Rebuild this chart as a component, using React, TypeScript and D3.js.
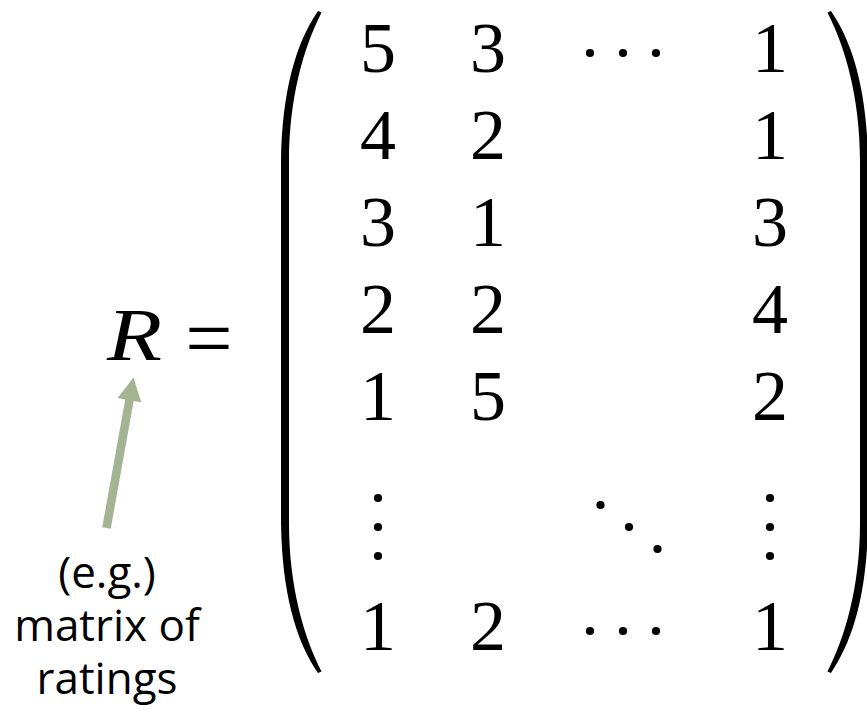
import React from "react";
import * as d3 from "d3";

// ---- data ----
const colKeys = ["c1", "c2", "c3", "c4"];
const col1Values = [5, 4, 3, 2, 1];
const col2Values = [3, 2, 1, 2, 5];
const lastColValues = [1, 1, 3, 4, 2];
const lastRowValues = [1, 2, 1];
const rowKeys = ["r1", "r2", "r3", "r4", "r5", "vdots", "last"];
const labelLines = ["(e.g.)", "matrix of", "ratings"];
const lhsSymbol = "R";
const eqSymbol = "=";

const W = 867;
const H = 713;

export default function App() {
  const x = d3.scaleOrdinal<string, number>().domain(colKeys).range([378, 488, 623, 770]);
  const y = d3.scaleOrdinal<string, number>().domain(rowKeys).range([72, 159, 246, 333, 420, 527, 650]);
  const axisShift = 19; // math axis above baseline
  const dotR = 4.1;
  const dotGap = 33;
  const mathFont = "'Liberation Serif', 'Times New Roman', serif";
  const fs = 72;

  const cells: { k: string; col: string; row: string; v: number }[] = [];
  col1Values.forEach((v, i) => cells.push({ k: `a${i}`, col: "c1", row: rowKeys[i], v }));
  col2Values.forEach((v, i) => cells.push({ k: `b${i}`, col: "c2", row: rowKeys[i], v }));
  lastColValues.forEach((v, i) => cells.push({ k: `d${i}`, col: "c4", row: rowKeys[i], v }));
  ["c1", "c2", "c4"].forEach((c, i) => cells.push({ k: `l${i}`, col: c, row: "last", v: lastRowValues[i] }));

  const dots: { k: string; cx: number; cy: number }[] = [];
  ["r1", "last"].forEach((r) => {
    [-1, 0, 1].forEach((j) =>
      dots.push({ k: `h${r}${j}`, cx: x("c3") + j * dotGap, cy: y(r) - axisShift })
    );
  });
  ["c1", "c4"].forEach((c) => {
    [-1, 0, 1].forEach((j) => dots.push({ k: `v${c}${j}`, cx: x(c), cy: y("vdots") + j * 29 }));
  });
  [-1, 0, 1].forEach((j) =>
    dots.push({ k: `dd${j}`, cx: x("c3") + 6 + j * 28.5, cy: y("vdots") + j * 22 })
  );

  // parenthesis shape (left); right is mirrored
  const parenTop = 11;
  const parenBot = 673;
  const outerX = 281;
  const innerX = 289;
  const tipX = 320;
  const lp = d3.path();
  lp.moveTo(tipX - 2, parenTop);
  lp.bezierCurveTo(tipX - 24, parenTop + 32, outerX + 1, parenTop + 80, outerX, parenTop + 150);
  lp.lineTo(outerX, parenBot - 150);
  lp.bezierCurveTo(outerX + 1, parenBot - 80, tipX - 24, parenBot - 32, tipX - 2, parenBot);
  lp.lineTo(tipX + 1.5, parenBot - 1.5);
  lp.bezierCurveTo(tipX - 16, parenBot - 36, innerX, parenBot - 86, innerX, parenBot - 150);
  lp.lineTo(innerX, parenTop + 150);
  lp.bezierCurveTo(innerX, parenTop + 86, tipX - 16, parenTop + 36, tipX + 1.5, parenTop + 1.5);
  lp.closePath();
  const mirrorX = tipX + 829;

  // arrow
  const arrowTail: [number, number] = [106.5, 528];
  const arrowTip: [number, number] = [133.5, 377.5];
  const dx = arrowTip[0] - arrowTail[0];
  const dy = arrowTip[1] - arrowTail[1];
  const len = Math.hypot(dx, dy);
  const ux = dx / len;
  const uy = dy / len;
  const px = -uy;
  const py = ux;
  const headLen = 23;
  const headHalf = 12;
  const shaftHalf = 4.3;
  const hb: [number, number] = [arrowTip[0] - ux * headLen, arrowTip[1] - uy * headLen];
  const arrowPts: [number, number][] = [
    [arrowTail[0] + px * shaftHalf, arrowTail[1] + py * shaftHalf],
    [hb[0] + px * shaftHalf, hb[1] + py * shaftHalf],
    [hb[0] + px * headHalf, hb[1] + py * headHalf],
    arrowTip,
    [hb[0] - px * headHalf, hb[1] - py * headHalf],
    [hb[0] - px * shaftHalf, hb[1] - py * shaftHalf],
    [arrowTail[0] - px * shaftHalf, arrowTail[1] - py * shaftHalf],
  ];
  const arrowPath = d3.line()(arrowPts) + "Z";

  const labelY = d3.scaleLinear().domain([0, 2]).range([588, 694]);

  return (
    <svg
      width={W}
      height={H}
      viewBox={`0 0 ${W} ${H}`}
      style={{ position: "absolute", left: 0, top: 0, background: "#fff" }}
    >
      <rect width={W} height={H} fill="#fff" />
      <text
        x={107}
        y={360}
        fontFamily={mathFont}
        fontStyle="italic"
        fontSize={73}
        textLength={55}
        lengthAdjust="spacingAndGlyphs"
        fill="#000"
      >
        {lhsSymbol}
      </text>
      <text x={209} y={367} fontFamily={mathFont} fontSize={84} textAnchor="middle" fill="#000">
        {eqSymbol}
      </text>

      <path d={lp.toString()} fill="#000" />
      <path d={lp.toString()} fill="#000" transform={`translate(${mirrorX},0) scale(-1,1)`} />

      {cells.map((c) => (
        <text
          key={c.k}
          x={x(c.col)}
          y={y(c.row)}
          fontFamily={mathFont}
          fontSize={fs}
          textAnchor="middle"
          fill="#000"
        >
          {c.v}
        </text>
      ))}
      {dots.map((d) => (
        <circle key={d.k} cx={d.cx} cy={d.cy} r={dotR} fill="#000" />
      ))}

      <path d={arrowPath} fill="#a4b492" />
      {labelLines.map((t, i) => (
        <text
          key={t}
          x={107}
          y={labelY(i)}
          fontFamily="'Open Sans', 'Noto Sans', sans-serif"
          fontSize={44}
          textAnchor="middle"
          fill="#000"
        >
          {t}
        </text>
      ))}
    </svg>
  );
}
